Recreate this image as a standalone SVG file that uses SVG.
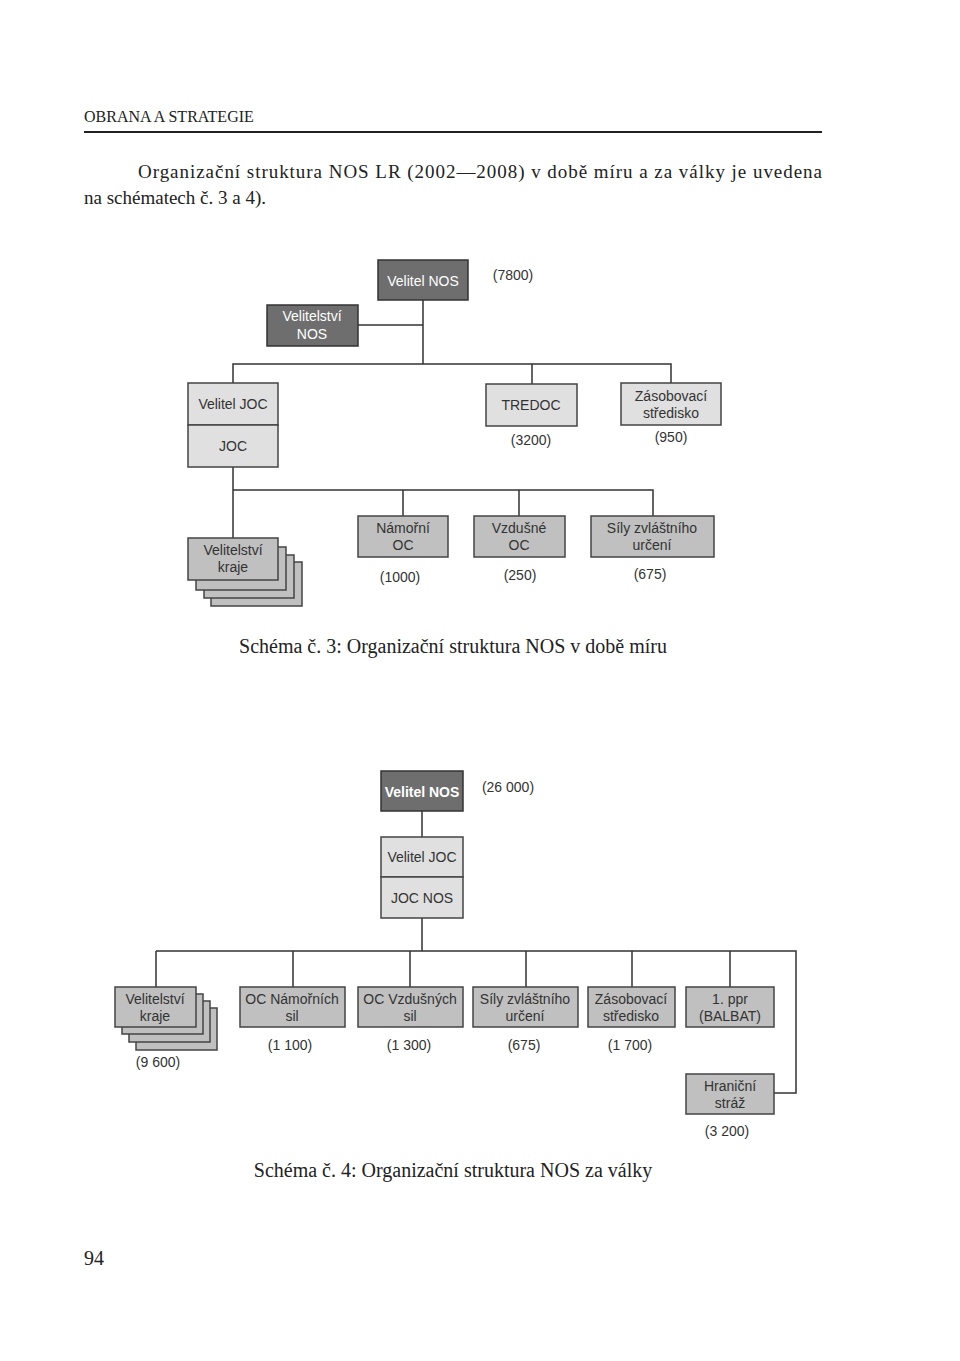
<svg xmlns="http://www.w3.org/2000/svg" width="960" height="1361" viewBox="0 0 960 1361">
<style>
.s{font-family:"Liberation Serif",serif;fill:#222}
.t{font-family:"Liberation Sans",Arial,sans-serif;font-size:14px;fill:#333;text-anchor:middle}
.w{fill:#fff}
.d{fill:#6e6e6e;stroke:#333;stroke-width:1.5}
.l{fill:#e0e0e0;stroke:#444;stroke-width:1.5}
.m{fill:#c0c0c0;stroke:#444;stroke-width:1.5}
.c{fill:none;stroke:#333;stroke-width:1.5}
</style>
<rect width="960" height="1361" fill="#fff"/>
<text class="s" x="84" y="122" font-size="16">OBRANA A STRATEGIE</text>
<line x1="84" y1="132" x2="822" y2="132" stroke="#222" stroke-width="2"/>
<text class="s" x="138" y="178" font-size="19" textLength="684" lengthAdjust="spacing">Organizační struktura NOS LR (2002—2008) v době míru a za války je uvedena</text>
<text class="s" x="84" y="204" font-size="19">na schématech č. 3 a 4).</text>

<g id="connectors">
<path class="c" d="M423 300V364M358 325H423M233 383V364H671V383M532 364V384"/>
<path class="c" d="M233 467V538M233 490H653V516M403 490V516M519 490V516"/>
<path class="c" d="M422 811V837M422 918V951M156 951H796V1093H774M156 951V987M293 951V987M410 951V987M526 951V987M632 951V987M730 951V987"/>
</g>

<g id="n1"><rect class="d" x="378" y="260" width="90" height="40"/><text class="t w" x="423" y="286">Velitel NOS</text></g>
<text class="t" x="513" y="280">(7800)</text>
<g id="n2"><rect class="d" x="267" y="305" width="91" height="41"/><text class="t w" x="312" y="321">Velitelství</text><text class="t w" x="312" y="339">NOS</text></g>
<g id="n3"><rect class="l" x="188" y="383" width="90" height="42"/><text class="t" x="233" y="409">Velitel JOC</text><rect class="l" x="188" y="425" width="90" height="42"/><text class="t" x="233" y="451">JOC</text></g>
<g id="n4"><rect class="l" x="486" y="384" width="91" height="42"/><text class="t" x="531" y="410">TREDOC</text></g>
<text class="t" x="531" y="445">(3200)</text>
<g id="n5"><rect class="l" x="621" y="383" width="100" height="42"/><text class="t" x="671" y="401">Zásobovací</text><text class="t" x="671" y="418">středisko</text></g>
<text class="t" x="671" y="442">(950)</text>
<g id="n6"><rect class="m" x="211" y="562" width="91" height="44"/><rect class="m" x="204" y="555" width="90" height="43"/><rect class="m" x="196" y="547" width="90" height="43"/><rect class="m" x="188" y="538" width="90" height="42"/><text class="t" x="233" y="555">Velitelství</text><text class="t" x="233" y="572">kraje</text></g>
<g id="n7"><rect class="m" x="358" y="516" width="90" height="41"/><text class="t" x="403" y="533">Námořní</text><text class="t" x="403" y="550">OC</text></g>
<text class="t" x="400" y="582">(1000)</text>
<g id="n8"><rect class="m" x="474" y="516" width="91" height="41"/><text class="t" x="519" y="533">Vzdušné</text><text class="t" x="519" y="550">OC</text></g>
<text class="t" x="520" y="580">(250)</text>
<g id="n9"><rect class="m" x="591" y="516" width="123" height="41"/><text class="t" x="652" y="533">Síly zvláštního</text><text class="t" x="652" y="550">určení</text></g>
<text class="t" x="650" y="579">(675)</text>
<text class="s" x="453" y="653" font-size="20" text-anchor="middle">Schéma č. 3: Organizační struktura NOS v době míru</text>

<g id="b1"><rect class="d" x="381" y="771" width="82" height="40"/><text class="t w" x="422" y="797" font-size="13" font-weight="bold">Velitel NOS</text></g>
<text class="t" x="508" y="792" font-size="13">(26 000)</text>
<g id="b2"><rect class="l" x="381" y="837" width="82" height="40"/><text class="t" x="422" y="862" font-size="13">Velitel JOC</text><rect class="l" x="381" y="877" width="82" height="41"/><text class="t" x="422" y="903" font-size="13">JOC NOS</text></g>
<g id="b3"><rect class="m" x="136" y="1008" width="81" height="42"/><rect class="m" x="129" y="1001" width="81" height="41"/><rect class="m" x="122" y="994" width="81" height="40"/><rect class="m" x="115" y="987" width="81" height="40"/><text class="t" x="155" y="1004" font-size="13">Velitelství</text><text class="t" x="155" y="1021" font-size="13">kraje</text></g>
<text class="t" x="158" y="1067" font-size="13">(9 600)</text>
<g id="b4"><rect class="m" x="240" y="987" width="105" height="40"/><text class="t" x="292" y="1004" font-size="13">OC Námořních</text><text class="t" x="292" y="1021" font-size="13">sil</text></g>
<text class="t" x="290" y="1050" font-size="13">(1 100)</text>
<g id="b5"><rect class="m" x="358" y="987" width="105" height="40"/><text class="t" x="410" y="1004" font-size="13">OC Vzdušných</text><text class="t" x="410" y="1021" font-size="13">sil</text></g>
<text class="t" x="409" y="1050" font-size="13">(1 300)</text>
<g id="b6"><rect class="m" x="473" y="987" width="105" height="40"/><text class="t" x="525" y="1004" font-size="13">Síly zvláštního</text><text class="t" x="525" y="1021" font-size="13">určení</text></g>
<text class="t" x="524" y="1050" font-size="13">(675)</text>
<g id="b7"><rect class="m" x="588" y="987" width="87" height="40"/><text class="t" x="631" y="1004" font-size="13">Zásobovací</text><text class="t" x="631" y="1021" font-size="13">středisko</text></g>
<text class="t" x="630" y="1050" font-size="13">(1 700)</text>
<g id="b8"><rect class="m" x="686" y="987" width="88" height="40"/><text class="t" x="730" y="1004" font-size="13">1. ppr</text><text class="t" x="730" y="1021" font-size="13">(BALBAT)</text></g>
<g id="b9"><rect class="m" x="686" y="1074" width="88" height="40"/><text class="t" x="730" y="1091" font-size="13">Hraniční</text><text class="t" x="730" y="1108" font-size="13">stráž</text></g>
<text class="t" x="727" y="1136" font-size="13">(3 200)</text>
<text class="s" x="453" y="1177" font-size="20" text-anchor="middle">Schéma č. 4: Organizační struktura NOS za války</text>
<text class="s" x="84" y="1265" font-size="20">94</text>
</svg>
